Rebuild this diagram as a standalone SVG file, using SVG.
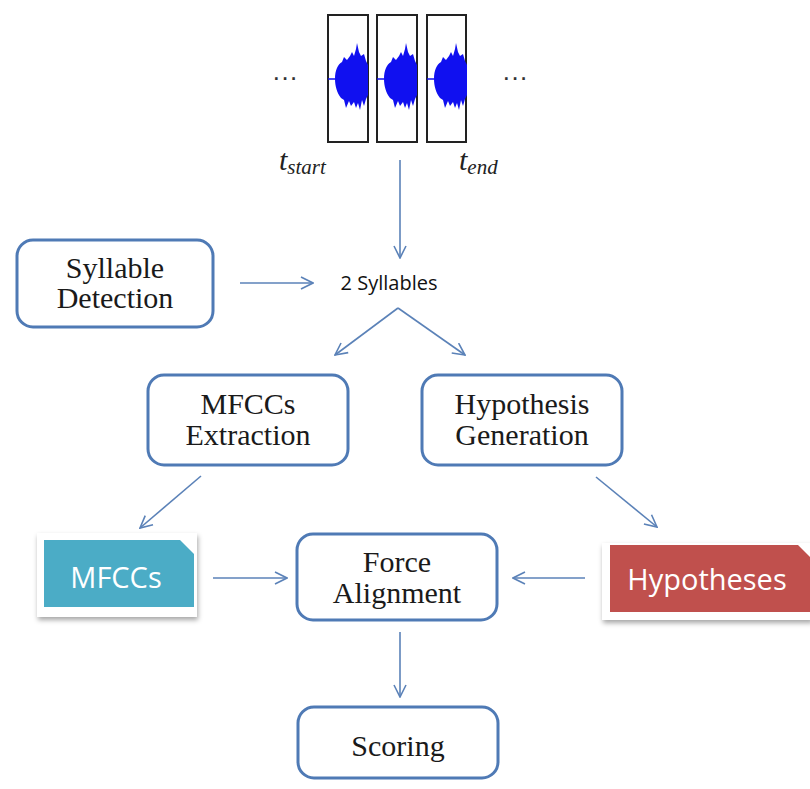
<svg xmlns="http://www.w3.org/2000/svg" width="810" height="789" viewBox="0 0 810 789">
  <style>
    .box { fill: #ffffff; stroke: #4f7ab5; stroke-width: 3; }
    .lbl { font-family: "Liberation Serif", "Times New Roman", serif; font-size: 30px; fill: #1a1a1a; text-anchor: middle; }
    .tag { font-family: "Open Sans", "Liberation Sans", sans-serif; font-size: 29px; fill: #ffffff; text-anchor: middle; }
    .conn { stroke: #5b82b8; stroke-width: 1.6; fill: none; }
    .frame { fill: #ffffff; stroke: #222222; stroke-width: 2; }
    .wave { fill: #1010f0; }
  </style>
  <defs>
    <marker id="arrow" viewBox="0 0 14 14" refX="13" refY="7" markerWidth="14" markerHeight="14" markerUnits="userSpaceOnUse" orient="auto">
      <path d="M1,1 L13,7 L1,13" fill="none" stroke="#5b82b8" stroke-width="1.6"/>
    </marker>
    <path id="blob" d="M-7,0 L0,0 C0,-9 3,-15 7,-17 L9,-22 12,-19 15,-23 17,-27 19,-23 21,-30 22,-36 24,-27 26,-23 29,-25 31,-18 33,-14 33,16 31,20 29,27 27,21 25,31 23,24 21,29 19,23 16,27 14,22 11,29 9,21 6,19 C2,14 0,7 0,0 Z"/>
    <filter id="shadow" x="-10%" y="-10%" width="130%" height="130%">
      <feDropShadow dx="1" dy="3" stdDeviation="2.5" flood-color="#000000" flood-opacity="0.35"/>
    </filter>
  </defs>

  <rect width="810" height="789" fill="#ffffff"/>

  <!-- audio frames -->
  <g id="audio">
    <text x="285" y="86" font-family="Liberation Sans, sans-serif" font-size="26" fill="#333" text-anchor="middle">···</text>
    <text x="515" y="86" font-family="Liberation Sans, sans-serif" font-size="26" fill="#333" text-anchor="middle">···</text>
    <rect class="frame" x="328" y="15" width="40" height="127"/>
    <rect class="frame" x="377" y="15" width="40" height="127"/>
    <rect class="frame" x="427" y="15" width="39" height="127"/>
    <g class="wave">
      <use href="#blob" transform="translate(335,79)"/>
      <use href="#blob" transform="translate(384,79)"/>
      <use href="#blob" transform="translate(434,79)"/>
    </g>
    <path d="M328,79 H335 M377,79 H384 M427,79 H434" stroke="#1010f0" stroke-width="1.5"/>
    <text x="279" y="170" font-family="Liberation Serif, serif" font-style="italic" font-size="30" fill="#222">t<tspan font-size="21" dy="4">start</tspan></text>
    <text x="459" y="170" font-family="Liberation Serif, serif" font-style="italic" font-size="30" fill="#222">t<tspan font-size="21" dy="4">end</tspan></text>
  </g>

  <g id="syllables">
    <text x="389" y="290" font-family="Open Sans, Liberation Sans, sans-serif" font-size="20" fill="#111" text-anchor="middle">2 Syllables</text>
  </g>

  <g id="syllable-detection">
    <rect class="box" x="17" y="240" width="196" height="87" rx="16"/>
    <text class="lbl" x="115" y="278">Syllable</text>
    <text class="lbl" x="115" y="308">Detection</text>
  </g>

  <g id="mfccs-extraction">
    <rect class="box" x="148" y="375" width="200" height="90" rx="16"/>
    <text class="lbl" x="248" y="414">MFCCs</text>
    <text class="lbl" x="248" y="445">Extraction</text>
  </g>

  <g id="hypothesis-generation">
    <rect class="box" x="422" y="375" width="200" height="90" rx="16"/>
    <text class="lbl" x="522" y="414">Hypothesis</text>
    <text class="lbl" x="522" y="445">Generation</text>
  </g>

  <g id="mfccs">
    <path d="M37,533 H197 V617 H37 Z" fill="#ffffff" filter="url(#shadow)"/>
    <path d="M44,540 H180 L194,554 V607 H44 Z" fill="#4bacc6"/>
    <text class="tag" x="116" y="588">MFCCs</text>
  </g>

  <g id="hypotheses">
    <path d="M602,543 H812 V620 H602 Z" fill="#ffffff" filter="url(#shadow)"/>
    <path d="M610,545 H798 L812,559 V612 H610 Z" fill="#c0504d"/>
    <text class="tag" x="707" y="590">Hypotheses</text>
  </g>

  <g id="force-alignment">
    <rect class="box" x="297" y="534" width="200" height="86" rx="16"/>
    <text class="lbl" x="397" y="572">Force</text>
    <text class="lbl" x="397" y="603">Alignment</text>
  </g>

  <g id="scoring">
    <rect class="box" x="298" y="707" width="200" height="71" rx="16"/>
    <text class="lbl" x="398" y="756">Scoring</text>
  </g>

  <g id="connectors">
    <line class="conn" x1="400" y1="160" x2="400" y2="258" marker-end="url(#arrow)"/>
    <line class="conn" x1="240" y1="283" x2="313" y2="283" marker-end="url(#arrow)"/>
    <line class="conn" x1="398" y1="308" x2="335" y2="355" marker-end="url(#arrow)"/>
    <line class="conn" x1="398" y1="308" x2="465" y2="355" marker-end="url(#arrow)"/>
    <line class="conn" x1="201" y1="476" x2="140" y2="528" marker-end="url(#arrow)"/>
    <line class="conn" x1="596" y1="477" x2="657" y2="527" marker-end="url(#arrow)"/>
    <line class="conn" x1="213" y1="578" x2="287" y2="578" marker-end="url(#arrow)"/>
    <line class="conn" x1="585" y1="578" x2="513" y2="578" marker-end="url(#arrow)"/>
    <line class="conn" x1="400" y1="632" x2="400" y2="697" marker-end="url(#arrow)"/>
  </g>
</svg>
